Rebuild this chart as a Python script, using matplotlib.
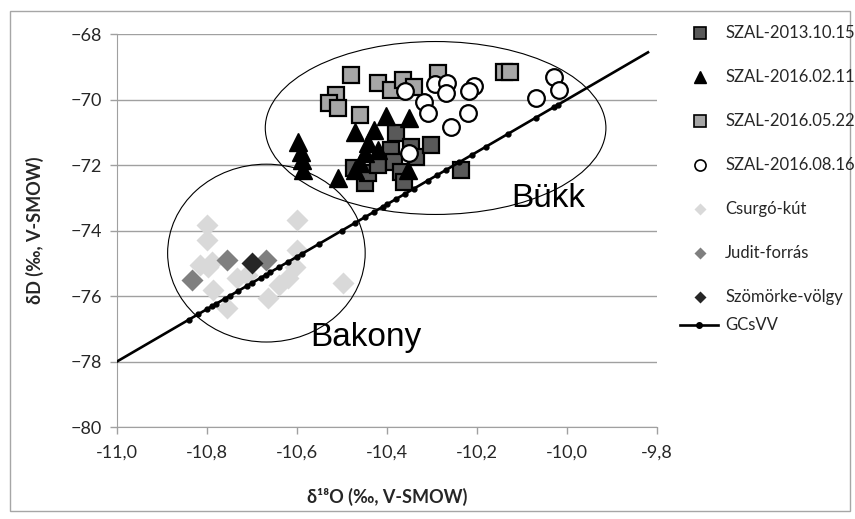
import matplotlib
matplotlib.use("Agg")
import matplotlib.pyplot as plt
from matplotlib.patches import Ellipse, Rectangle
from matplotlib.lines import Line2D

plt.rcParams['font.family'] = ['Lato', 'DejaVu Sans']

# SZAL-2013.10.15 (dark grey squares)
szal_2013_x = [-10.474, -10.448, -10.443, -10.419, -10.392, -10.385, -10.381,
               -10.370, -10.363, -10.347, -10.336, -10.303, -10.236]
szal_2013_y = [-72.09, -72.55, -72.24, -72.00, -71.54, -71.91, -71.02,
               -72.21, -72.52, -71.45, -71.76, -71.39, -72.15]

# SZAL-2016.02.11 (black triangles)
szal_2016a_x = [-10.597, -10.592, -10.590, -10.586, -10.510, -10.470, -10.430,
                -10.403, -10.352, -10.443, -10.448, -10.459, -10.470, -10.354,
                -10.419]
szal_2016a_y = [-71.30, -71.60, -71.85, -72.15, -72.40, -70.99, -70.93,
                -70.50, -70.56, -71.33, -71.63, -71.94, -72.15, -72.15,
                -71.54]

# SZAL-2016.05.22 (light grey squares)
szal_2016b_x = [-10.481, -10.419, -10.392, -10.365, -10.341, -10.287, -10.514,
                -10.530, -10.508, -10.459, -10.140, -10.127]
szal_2016b_y = [-69.25, -69.50, -69.71, -69.40, -69.62, -69.19, -69.86,
                -70.11, -70.26, -70.47, -69.16, -69.16]

# SZAL-2016.08.16 (open circles)
szal_2016c_x = [-10.359, -10.318, -10.310, -10.294, -10.267, -10.270, -10.207,
                -10.218, -10.220, -10.258, -10.352, -10.069, -10.029, -10.018]
szal_2016c_y = [-69.74, -70.08, -70.41, -69.53, -69.50, -69.80, -69.59,
                -69.74, -70.41, -70.84, -71.63, -69.95, -69.31, -69.71]

# Bakony springs
csurgo_x = [-10.800, -10.800, -10.797, -10.815, -10.788, -10.786, -10.755,
            -10.733, -10.710, -10.664, -10.641, -10.619, -10.604, -10.599,
            -10.599, -10.497]
csurgo_y = [-73.83, -74.29, -75.11, -75.05, -74.96, -75.82, -76.37,
            -75.45, -75.36, -76.06, -75.66, -75.45, -75.11, -74.60,
            -73.68, -75.60]
judit_x = [-10.833, -10.755, -10.670]
judit_y = [-75.51, -74.90, -74.90]
szomorke_x = [-10.699]
szomorke_y = [-74.99]

# GCsVV (global meteoric water line) points
gcsvv_x = [-11.00, -10.84, -10.82, -10.80, -10.79, -10.78, -10.76, -10.75,
           -10.73, -10.71, -10.70, -10.68, -10.67, -10.66, -10.64, -10.62,
           -10.60, -10.59, -10.55, -10.50, -10.47, -10.45, -10.43, -10.41,
           -10.40, -10.38, -10.36, -10.34, -10.31, -10.29, -10.27, -10.24,
           -10.21, -10.18, -10.13, -10.07, -10.03, -10.02, -9.82]
gcsvv_y = [-78.00, -76.72, -76.56, -76.40, -76.32, -76.24, -76.08, -76.00,
           -75.84, -75.68, -75.60, -75.44, -75.36, -75.28, -75.12, -74.96,
           -74.80, -74.72, -74.40, -74.00, -73.76, -73.60, -73.44, -73.28,
           -73.20, -73.04, -72.88, -72.72, -72.48, -72.32, -72.16, -71.92,
           -71.68, -71.44, -71.04, -70.56, -70.24, -70.16, -68.56]

x_ticks = [-11.0, -10.8, -10.6, -10.4, -10.2, -10.0, -9.8]
y_ticks = [-68, -70, -72, -74, -76, -78, -80]

W, H = 855, 519
fig = plt.figure(figsize=(W / 100, H / 100), dpi=100)
ax = fig.add_axes([117 / W, 1 - 427 / H, (657 - 117) / W, (427 - 34) / H])

grid_c = '#a0a0a0'
ax.plot(szal_2013_x, szal_2013_y, 's', ms=12, mfc='#595959', mec='black', mew=1.6, zorder=3)
ax.plot(szal_2016a_x, szal_2016a_y, '^', ms=13, mfc='black', mec='black', mew=1, zorder=4)
ax.plot(szal_2016b_x, szal_2016b_y, 's', ms=12, mfc='#a6a6a6', mec='black', mew=1.6, zorder=5)
ax.plot(szal_2016c_x, szal_2016c_y, 'o', ms=12, mfc='white', mec='black', mew=1.6, zorder=6)
ax.plot(csurgo_x, csurgo_y, 'D', ms=11, mfc='#d9d9d9', mec='none', zorder=7)
ax.plot(judit_x, judit_y, 'D', ms=11, mfc='#7f7f7f', mec='none', zorder=8)
ax.plot(szomorke_x, szomorke_y, 'D', ms=11, mfc='#262626', mec='none', zorder=9)
ax.plot(gcsvv_x, gcsvv_y, '-', color='black', lw=1.9, marker='o', ms=3.5,
        markevery=list(range(1, len(gcsvv_x) - 1)), zorder=10)

# ellipses around the two regions
ax.add_patch(Ellipse((-10.292, -70.87), 0.757, 5.28, fill=False, ec='black', lw=0.8, zorder=11))
ax.add_patch(Ellipse((-10.668, -74.69), 0.439, 5.43, fill=False, ec='black', lw=0.8, zorder=11))
ax.text(-10.125, -73.28, 'Bükk', family='Liberation Sans', fontsize=24, va='baseline', zorder=12)
ax.text(-10.570, -77.53, 'Bakony', family='Liberation Sans', fontsize=24, va='baseline', zorder=12)

ax.set_xlim(-11.0, -9.8)
ax.set_ylim(-80, -68)
ax.set_xticks(x_ticks)
ax.set_xticklabels([f'{t:.1f}'.replace('.', ',') for t in x_ticks])
ax.set_yticks(y_ticks)
ax.tick_params(axis='both', labelsize=13, colors=grid_c, labelcolor='#262626',
               length=5, width=1, direction='out')
ax.tick_params(axis='x', pad=8)
ax.tick_params(axis='y', pad=6)
ax.yaxis.grid(True, color=grid_c, lw=1)
ax.set_axisbelow(True)
for s in ['top', 'right']:
    ax.spines[s].set_visible(False)
for s in ['left', 'bottom']:
    ax.spines[s].set_color(grid_c)

fig.text(35 / W, 1 - 230 / H, 'δD (‰, V-SMOW)', rotation=90, ha='center', va='center',
         fontsize=13, fontweight='bold', color='#262626')
fig.text(387 / W, 1 - 497 / H, 'δ¹⁸O (‰, V-SMOW)', ha='center', va='center',
         fontsize=13, fontweight='bold', color='#262626')

# legend drawn by hand
leg = [
    ('SZAL-2013.10.15', dict(marker='s', ms=8, mfc='#595959', mec='black', mew=1.2), 33),
    ('SZAL-2016.02.11', dict(marker='^', ms=8, mfc='black', mec='black'), 77),
    ('SZAL-2016.05.22', dict(marker='s', ms=8, mfc='#a6a6a6', mec='black', mew=1.2), 121),
    ('SZAL-2016.08.16', dict(marker='o', ms=8, mfc='white', mec='black', mew=1.2), 165),
    ('Csurgó-kút', dict(marker='D', ms=6, mfc='#d9d9d9', mec='none'), 209),
    ('Judit-forrás', dict(marker='D', ms=6, mfc='#7f7f7f', mec='none'), 253),
    ('Szömörke-völgy', dict(marker='D', ms=6, mfc='#262626', mec='none'), 297),
]
for label, style, y in leg:
    fig.add_artist(Line2D([700 / W], [1 - y / H], ls='none', transform=fig.transFigure, **style))
    fig.text(725 / W, 1 - y / H, label, va='center', fontsize=12, color='#262626')
y = 325
fig.add_artist(Line2D([680 / W, 718 / W], [1 - y / H, 1 - y / H], color='black', lw=1.9,
                      transform=fig.transFigure))
fig.add_artist(Line2D([699 / W], [1 - y / H], marker='o', ms=4, color='black',
                      transform=fig.transFigure))
fig.text(725 / W, 1 - y / H, 'GCsVV', va='center', fontsize=12, color='#262626')

fig.add_artist(Rectangle((10 / W, 8 / H), 840 / W, 500 / H, fill=False, ec='#a6a6a6',
                         lw=1, transform=fig.transFigure))

fig.savefig('out.png', dpi=100)
